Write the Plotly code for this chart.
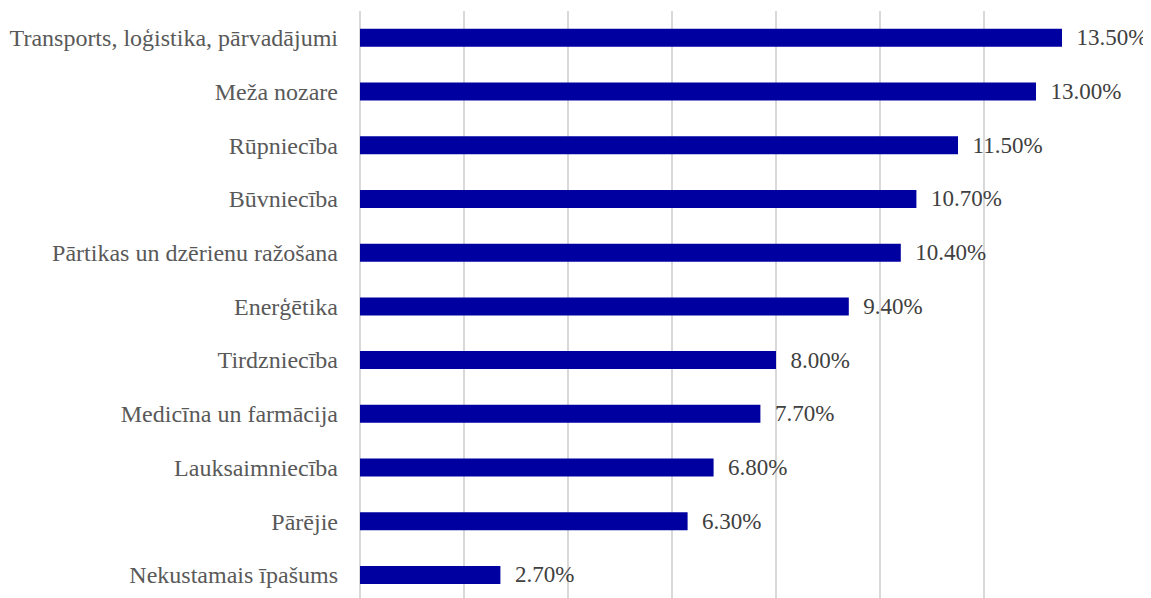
import plotly.graph_objects as go

categories = ["Transports, loģistika, pārvadājumi", "Meža nozare", "Rūpniecība", "Būvniecība",
              "Pārtikas un dzērienu ražošana", "Enerģētika", "Tirdzniecība", "Medicīna un farmācija",
              "Lauksaimniecība", "Pārējie", "Nekustamais īpašums"]
values = [13.5, 13.0, 11.5, 10.7, 10.4, 9.4, 8.0, 7.7, 6.8, 6.3, 2.7]
labels = ["\u00a0\u00a0" + f"{v:.2f}%" for v in values]

fig = go.Figure(go.Bar(
    x=values, y=categories, orientation="h",
    marker=dict(color="#0000A0", line=dict(width=0)),
    text=labels, textposition="outside", cliponaxis=False, constraintext="none",
    textfont=dict(family="Liberation Serif", size=23, color="#404040"),
    width=0.335,
))
fig.update_layout(
    width=1143, height=590,
    margin=dict(l=352, r=63, t=3, b=0, autoexpand=False),
    plot_bgcolor="white", paper_bgcolor="white",
    showlegend=False,
    font=dict(family="Liberation Serif", size=24, color="#595959"),
    xaxis=dict(range=[0, 14], dtick=2, showgrid=True, gridcolor="#D9D9D9", gridwidth=1.5,
               showticklabels=False, zeroline=True, zerolinecolor="#D9D9D9", zerolinewidth=1.5,
               ticks="", automargin=False),
    yaxis=dict(range=[10.43, -0.5], showgrid=False, ticks="", ticklabelstandoff=21, automargin=False,
               tickfont=dict(family="Liberation Serif", size=24, color="#595959")),
)
fig.write_html("out.html")
